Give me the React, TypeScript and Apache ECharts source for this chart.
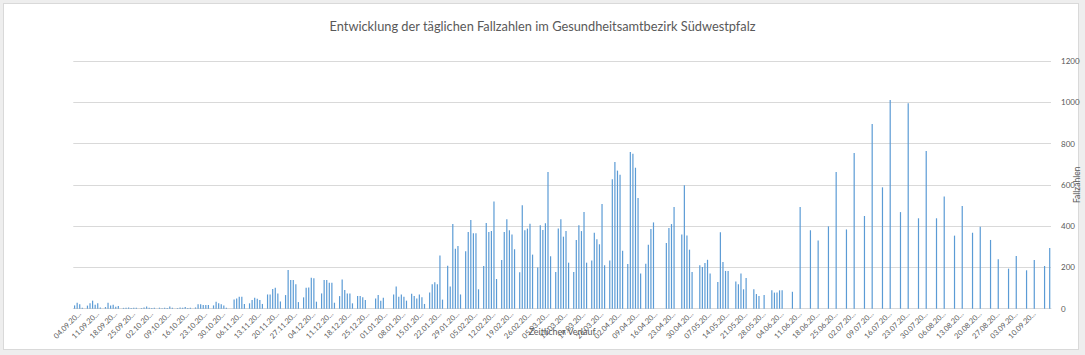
import React, { useEffect, useRef } from "react";
import * as echarts from "echarts";

// Data: one value per day, starting Wed 02.09.2020 (0 = no report that day)
const START_YEAR = 2020;
const START_MONTH = 8; // September (0-based)
const START_DAY = 2;
const LABEL_FIRST = 2; // 04.09.2020
const LABEL_STEP = 7;
const Y_TICKS = [0, 200, 400, 600, 800, 1000, 1200];

const TITLE = "Entwicklung der täglichen Fallzahlen im Gesundheitsamtbezirk Südwestpfalz";
const X_NAME = "Zeitlicher Verlauf";
const Y_NAME = "Fallzahlen";

// rows = weeks (Wed..Tue)
const cases: number[] = [
  16, 29, 21, 5, 0, 15, 26,
  39, 19, 26, 6, 0, 8, 29,
  16, 19, 10, 13, 0, 4, 5,
  6, 3, 4, 5, 0, 3, 6,
  11, 5, 3, 4, 0, 5, 2,
  4, 3, 11, 5, 0, 3, 6,
  4, 8, 3, 5, 0, 6, 21,
  21, 18, 18, 18, 0, 16, 34,
  26, 21, 15, 5, 0, 0, 45,
  50, 58, 58, 23, 0, 26, 42,
  53, 48, 42, 23, 0, 69, 69,
  95, 102, 74, 35, 0, 66, 187,
  139, 139, 119, 32, 0, 55, 102,
  103, 150, 147, 34, 0, 74, 139,
  139, 126, 126, 29, 0, 61, 142,
  90, 74, 74, 26, 0, 61, 61,
  55, 42, 0, 0, 0, 50, 66,
  39, 53, 0, 0, 0, 69, 108,
  58, 69, 58, 39, 0, 73, 61,
  50, 69, 55, 23, 0, 79, 118,
  128, 118, 258, 44, 0, 208, 108,
  410, 291, 304, 69, 0, 278, 372,
  430, 365, 365, 94, 0, 207, 415,
  372, 376, 519, 144, 0, 236, 372,
  433, 380, 359, 288, 0, 176, 501,
  380, 388, 412, 262, 0, 200, 404,
  381, 414, 662, 254, 0, 178, 388,
  433, 349, 376, 223, 0, 178, 333,
  404, 376, 468, 223, 0, 233, 368,
  336, 312, 507, 210, 0, 233, 627,
  711, 669, 649, 281, 0, 216, 759,
  751, 683, 536, 171, 0, 218, 310,
  386, 418, 0, 0, 0, 0, 318,
  391, 410, 493, 0, 0, 359, 598,
  355, 286, 178, 0, 0, 210, 202,
  221, 237, 170, 0, 0, 129, 370,
  226, 183, 183, 0, 0, 132, 118,
  170, 94, 149, 0, 0, 94, 71,
  61, 0, 66, 0, 0, 89, 78,
  78, 89, 89, 0, 0, 0, 82,
  0, 0, 493, 0, 0, 0, 380,
  0, 0, 331, 0, 0, 0, 399,
  0, 0, 662, 0, 0, 0, 384,
  0, 0, 754, 0, 0, 0, 449,
  0, 0, 895, 0, 0, 0, 588,
  0, 0, 1011, 0, 0, 0, 468,
  0, 0, 995, 0, 0, 0, 438,
  0, 0, 764, 0, 0, 0, 438,
  0, 0, 544, 0, 0, 0, 354,
  0, 0, 498, 0, 0, 0, 368,
  0, 0, 397, 0, 0, 0, 333,
  0, 0, 239, 0, 0, 0, 194,
  0, 0, 255, 0, 0, 0, 186,
  0, 0, 236, 0, 0, 0, 207,
  0, 294,
];

function buildCategories(n: number): string[] {
  const out: string[] = [];
  for (let i = 0; i < n; i++) {
    const d = new Date(Date.UTC(START_YEAR, START_MONTH, START_DAY + i));
    const dd = String(d.getUTCDate()).padStart(2, "0");
    const mm = String(d.getUTCMonth() + 1).padStart(2, "0");
    out.push(`${dd}.${mm}.${d.getUTCFullYear()}`);
  }
  return out;
}

const categories = buildCategories(cases.length);

const FONT = "Lato, 'Open Sans', sans-serif";
const TEXT = "#595959";
const GRID = "#d9d9d9";

export default function App() {
  const ref = useRef<HTMLDivElement>(null);
  useEffect(() => {
    if (!ref.current) return;
    const chart = echarts.init(ref.current, undefined, { renderer: "svg" });
    chart.setOption({
      animation: false,
      backgroundColor: "transparent",
      textStyle: { fontFamily: FONT },
      title: {
        text: TITLE,
        left: "center",
        top: 14,
        textStyle: { fontFamily: FONT, fontSize: 12.8, fontWeight: "normal", color: TEXT },
      },
      grid: {
        left: 73.3,
        right: 34,
        top: 61,
        bottom: 46.3,
        containLabel: false,
        outerBoundsMode: "none",
      },
      xAxis: {
        type: "category",
        data: categories,
        boundaryGap: true,
        name: X_NAME,
        nameLocation: "middle",
        nameGap: 18,
        nameMoveOverlap: false,
        nameTextStyle: { fontFamily: FONT, fontSize: 9, color: TEXT },
        axisLine: { show: true, lineStyle: { color: GRID, width: 1 } },
        axisTick: { show: false },
        axisLabel: {
          interval: (idx: number) => idx >= LABEL_FIRST && (idx - LABEL_FIRST) % LABEL_STEP === 0,
          rotate: 45,
          margin: 4,
          fontFamily: FONT,
          fontSize: 7.5,
          color: TEXT,
          formatter: (v: string) => v.slice(0, 8) + "...",
        },
      },
      yAxis: {
        type: "value",
        position: "right",
        min: Y_TICKS[0],
        max: Y_TICKS[Y_TICKS.length - 1],
        interval: Y_TICKS[1] - Y_TICKS[0],
        name: Y_NAME,
        nameLocation: "middle",
        nameGap: 21,
        nameMoveOverlap: false,
        nameTextStyle: { fontFamily: FONT, fontSize: 8.5, color: TEXT },
        axisLine: { show: false },
        axisTick: { show: false },
        splitLine: { lineStyle: { color: GRID, width: 1 } },
        axisLabel: {
          margin: 10,
          fontFamily: FONT,
          fontSize: 8,
          color: TEXT,
          formatter: (v: number) => String(v),
        },
      },
      series: [
        {
          type: "bar",
          data: cases,
          barWidth: 1.2,
          itemStyle: { color: "#5B9BD5" },
        },
      ],
    });
    return () => chart.dispose();
  }, []);

  return (
    <div style={{ position: "absolute", left: 0, top: 0, width: 1085, height: 355, background: "#eeeeee" }}>
      <div
        style={{
          position: "absolute",
          left: 3,
          top: 3,
          width: 1076,
          height: 347,
          background: "#ffffff",
          border: "1px solid #d9d9d9",
          boxSizing: "border-box",
        }}
      />
      <div ref={ref} style={{ position: "absolute", left: 0, top: 0, width: 1085, height: 355 }} />
    </div>
  );
}
